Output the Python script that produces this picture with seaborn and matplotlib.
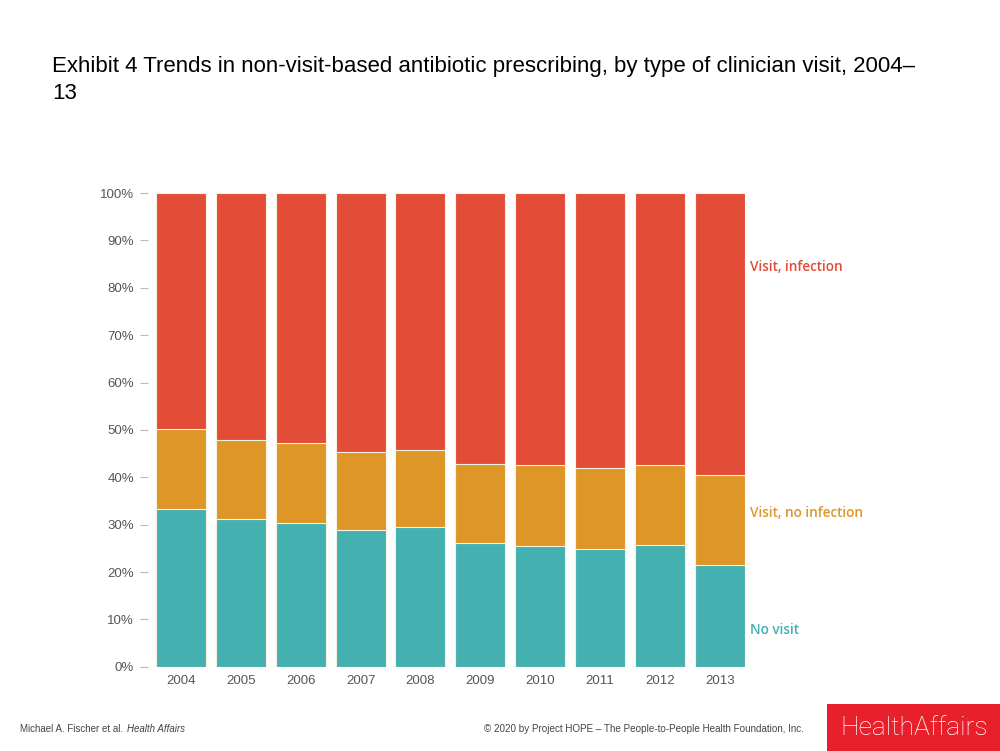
import matplotlib
matplotlib.use("Agg")
import matplotlib.pyplot as plt
import matplotlib.patches as mpatches
import seaborn as sns
import pandas as pd
import numpy as np

years = ["2004", "2005", "2006", "2007", "2008", "2009", "2010", "2011", "2012", "2013"]
no_visit = [33.4, 31.2, 30.4, 28.8, 29.5, 26.1, 25.5, 24.8, 25.8, 21.5]
visit_no_infection = [16.9, 16.6, 16.8, 16.6, 16.2, 16.8, 17.1, 17.2, 16.8, 18.9]
visit_infection = [49.7, 52.2, 52.8, 54.6, 54.3, 57.1, 57.4, 58.0, 57.4, 59.6]
series_labels = ["Visit, infection", "Visit, no infection", "No visit"]
yticks = [0, 10, 20, 30, 40, 50, 60, 70, 80, 90, 100]

c_red = "#E34C36"
c_orange = "#DE9727"
c_teal = "#45B0B0"

sns.set_theme(style="white")
plt.rcParams["font.family"] = ["Liberation Sans", "DejaVu Sans"]

df = pd.DataFrame({
    "year": years,
    "no_visit": no_visit,
    "visit_no_infection": visit_no_infection,
    "visit_infection": visit_infection,
})
df["lvl1"] = df["no_visit"]
df["lvl2"] = df["no_visit"] + df["visit_no_infection"]
df["lvl3"] = df["lvl2"] + df["visit_infection"]

fig = plt.figure(figsize=(10, 7.51), dpi=100)
ax = fig.add_axes([0.148, 0.112, 0.597, 0.631])

edge = "#f7f2df"
sns.barplot(data=df, x="year", y="lvl3", color=c_red, saturation=1, width=0.835,
            edgecolor=edge, linewidth=0.8, ax=ax)
sns.barplot(data=df, x="year", y="lvl2", color=c_orange, saturation=1, width=0.835,
            edgecolor=edge, linewidth=0.8, ax=ax)
sns.barplot(data=df, x="year", y="lvl1", color=c_teal, saturation=1, width=0.835,
            edgecolor=edge, linewidth=0.8, ax=ax)

ax.set_xlim(-0.55, 9.42)
ax.set_ylim(0, 100)
ax.set_yticks(yticks)
ax.set_yticklabels([f"{v}%" for v in yticks])
ax.set_xlabel("")
ax.set_ylabel("")
for s in ax.spines.values():
    s.set_visible(False)
ax.tick_params(axis="y", length=6, width=0.8, color="#bbbbbb", pad=4,
               labelsize=9.5, labelcolor="#555555", left=True)
ax.tick_params(axis="x", length=0, pad=6, labelsize=9.5, labelcolor="#555555")

# Series labels at the right
for lab, yv, col in zip(series_labels, [84.4, 32.5, 7.7], [c_red, c_orange, c_teal]):
    ax.text(9.5, yv, lab, color=col, fontsize=9.8, fontweight="semibold",
            family=["Open Sans", "DejaVu Sans"], va="center", ha="left",
            transform=ax.transData, clip_on=False)

# Title
fig.text(0.052, 0.911, "Exhibit 4 Trends in non-visit-based antibiotic prescribing, by type of clinician visit, 2004–",
         fontsize=16, color="black", va="center", ha="left")
fig.text(0.052, 0.876, "13", fontsize=16, color="black", va="center", ha="left")

# Footer
fig.text(0.020, 0.029, "Michael A. Fischer et al. ", fontsize=7, color="#444444", va="center", ha="left")
fig.text(0.127, 0.029, "Health Affairs", fontsize=7, color="#444444", va="center", ha="left", style="italic")
fig.text(0.484, 0.029, "© 2020 by Project HOPE – The People-to-People Health Foundation, Inc.",
         fontsize=7.1, color="#444444", va="center", ha="left")
fig.patches.append(mpatches.Rectangle((0.827, 0.0), 0.173, 0.062, transform=fig.transFigure,
                                      facecolor="#E8202B", edgecolor="none", zorder=1))
fig.text(0.9145, 0.031, "HealthAffairs", fontsize=19, color="white", va="center", ha="center",
         family=["Roboto", "DejaVu Sans"], fontweight="light", zorder=2)

fig.savefig("out.png", dpi=100, facecolor="white")
